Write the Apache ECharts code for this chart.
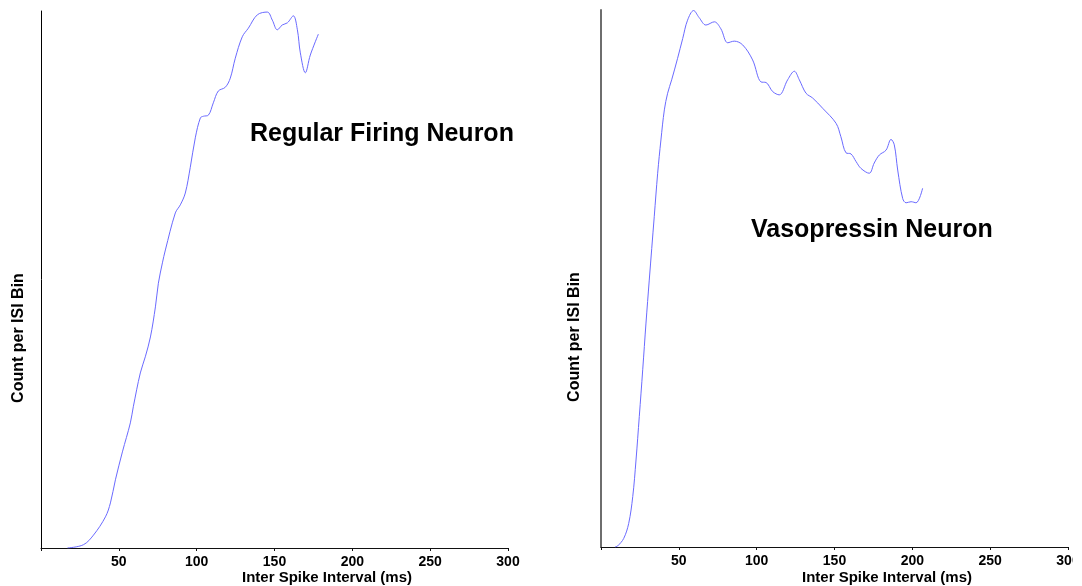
<!DOCTYPE html>
<html>
<head>
<meta charset="utf-8">
<script src="https://cdn.jsdelivr.net/npm/echarts@6/dist/echarts.min.js"></script>
<style>
html,body{margin:0;padding:0;background:#ffffff;overflow:hidden;}
#chart{width:1073px;height:586px;}
</style>
</head>
<body>
<div id="chart"></div>
<script>
// Regular firing neuron ISI histogram (smoothed)
const regularIsiMs = [17, 27.2, 33.7, 41.4, 44.6, 47.8, 52.3, 57.4, 59.3, 63.8, 67.0, 70.3, 73.5, 75.4, 78.0, 79.9, 86.3, 89.5, 92.7, 95.9, 99.2, 102.4, 104.3, 107.5, 110.7, 113.9, 118.4, 121.6, 124.8, 129.3, 133.2, 139.0, 145.4, 148.6, 151.8, 155.0, 158.3, 162.1, 164.7, 166.6, 169.8, 173.0, 178.2];
const regularCounts = [0, 0.6, 2.4, 5.8, 8.4, 12.7, 17.9, 23.3, 26.3, 32.6, 35.6, 39.3, 44.9, 49.3, 53.1, 55.5, 62.4, 63.9, 66.1, 70.9, 76.5, 80.1, 80.4, 80.6, 82.9, 85.1, 85.8, 87.5, 91.2, 95.2, 96.8, 99.3, 99.8, 98.3, 96.5, 97.4, 97.8, 99.1, 96.5, 92.2, 88.5, 91.8, 95.7];

// Vasopressin neuron ISI histogram (smoothed)
const vasoIsiMs = [9, 10.7, 14.6, 17.8, 20.4, 22.5, 24.6, 26.8, 28.9, 31.0, 34.2, 36.4, 38.5, 40.7, 42.8, 45.4, 49.2, 52.5, 55.6, 59.5, 63.0, 67.4, 72.8, 77.0, 81.4, 85.6, 91.0, 97.4, 102.8, 106.0, 110.3, 114.5, 119.9, 124.2, 127.4, 131.7, 136.0, 142.4, 151.0, 154.1, 157.4, 160.6, 163.8, 167.0, 172.3, 175.5, 178.8, 183.1, 186.3, 188.4, 190.6, 193.8, 196.0, 199.2, 202.4, 206.6];
const vasoCounts = [0, 0.2, 1.6, 4.4, 9.4, 16.2, 24.3, 33.0, 41.7, 49.7, 61.5, 69.6, 75.8, 81.4, 84.5, 87.0, 91.0, 94.7, 98.1, 99.9, 98.6, 97.2, 97.8, 96.5, 93.9, 94.2, 93.5, 90.7, 86.6, 86.5, 84.8, 84.2, 87.0, 88.6, 87.0, 84.5, 83.6, 81.7, 78.9, 76.4, 73.4, 73.2, 71.8, 70.5, 69.6, 71.5, 73.0, 73.9, 75.9, 74.9, 70.2, 64.9, 64.1, 64.3, 64.1, 66.8];

const xTickValues = [50, 100, 150, 200, 250, 300];
const xAxisTitle = 'Inter Spike Interval (ms)';
const yAxisTitle = 'Count per ISI Bin';
const panelTitles = ['Regular Firing Neuron', 'Vasopressin Neuron'];

const zip = (xs, ys) => xs.map((x, i) => [x, ys[i]]);
const FONT = "'Liberation Sans', Arial, sans-serif";
const LINE = '#6a6aff';

function xAxisFor(gridIndex) {
  return {
    type: 'value', gridIndex: gridIndex, min: 0, max: 300, interval: 50,
    axisLine: { show: true, onZero: false, lineStyle: { color: '#111', width: 1 } },
    axisTick: { show: true, length: 3, lineStyle: { color: '#111' } },
    splitLine: { show: false },
    axisLabel: {
      margin: 7, color: '#000', fontFamily: FONT, fontWeight: 'bold', fontSize: 14,
      hideOverlap: false,
      formatter: v => (xTickValues.indexOf(v) >= 0 ? String(v) : '')
    }
  };
}
function yAxisFor(gridIndex, color, width) {
  return {
    type: 'value', gridIndex: gridIndex, min: 0, max: 100,
    axisLine: { show: true, lineStyle: { color: color, width: width } },
    axisTick: { show: false }, axisLabel: { show: false }, splitLine: { show: false }
  };
}

const chart = echarts.init(document.getElementById('chart'), null, { renderer: 'canvas' });
chart.setOption({
  backgroundColor: '#ffffff',
  animation: false,
  grid: [
    { left: 41, top: 11, width: 467, height: 537, outerBoundsMode: 'none', containLabel: false },
    { left: 601, top: 10, width: 467, height: 537, outerBoundsMode: 'none', containLabel: false }
  ],
  xAxis: [xAxisFor(0), xAxisFor(1)],
  yAxis: [yAxisFor(0, '#000', 1), yAxisFor(1, '#6e6e6e', 2)],
  series: [
    { type: 'line', xAxisIndex: 0, yAxisIndex: 0, data: zip(regularIsiMs, regularCounts),
      smooth: 0.35, showSymbol: false, lineStyle: { color: LINE, width: 1 } },
    { type: 'line', xAxisIndex: 1, yAxisIndex: 1, data: zip(vasoIsiMs, vasoCounts),
      smooth: 0.35, showSymbol: false, lineStyle: { color: LINE, width: 1 } }
  ],
  graphic: [
    { type: 'text', x: 250, y: 134, style: { text: panelTitles[0], fill: '#000', font: "bold 25px " + FONT, verticalAlign: 'middle' } },
    { type: 'text', x: 751, y: 230, style: { text: panelTitles[1], fill: '#000', font: "bold 25px " + FONT, verticalAlign: 'middle' } },
    { type: 'text', x: 327, y: 578, style: { text: xAxisTitle, fill: '#000', font: "bold 15px " + FONT, align: 'center', verticalAlign: 'middle' } },
    { type: 'text', x: 887, y: 578, style: { text: xAxisTitle, fill: '#000', font: "bold 15px " + FONT, align: 'center', verticalAlign: 'middle' } },
    { type: 'text', x: 19, y: 338, rotation: Math.PI / 2, style: { text: yAxisTitle, fill: '#000', font: "bold 16px " + FONT, align: 'center', verticalAlign: 'middle' } },
    { type: 'text', x: 575, y: 337, rotation: Math.PI / 2, style: { text: yAxisTitle, fill: '#000', font: "bold 16px " + FONT, align: 'center', verticalAlign: 'middle' } }
  ]
});
</script>
</body>
</html>
